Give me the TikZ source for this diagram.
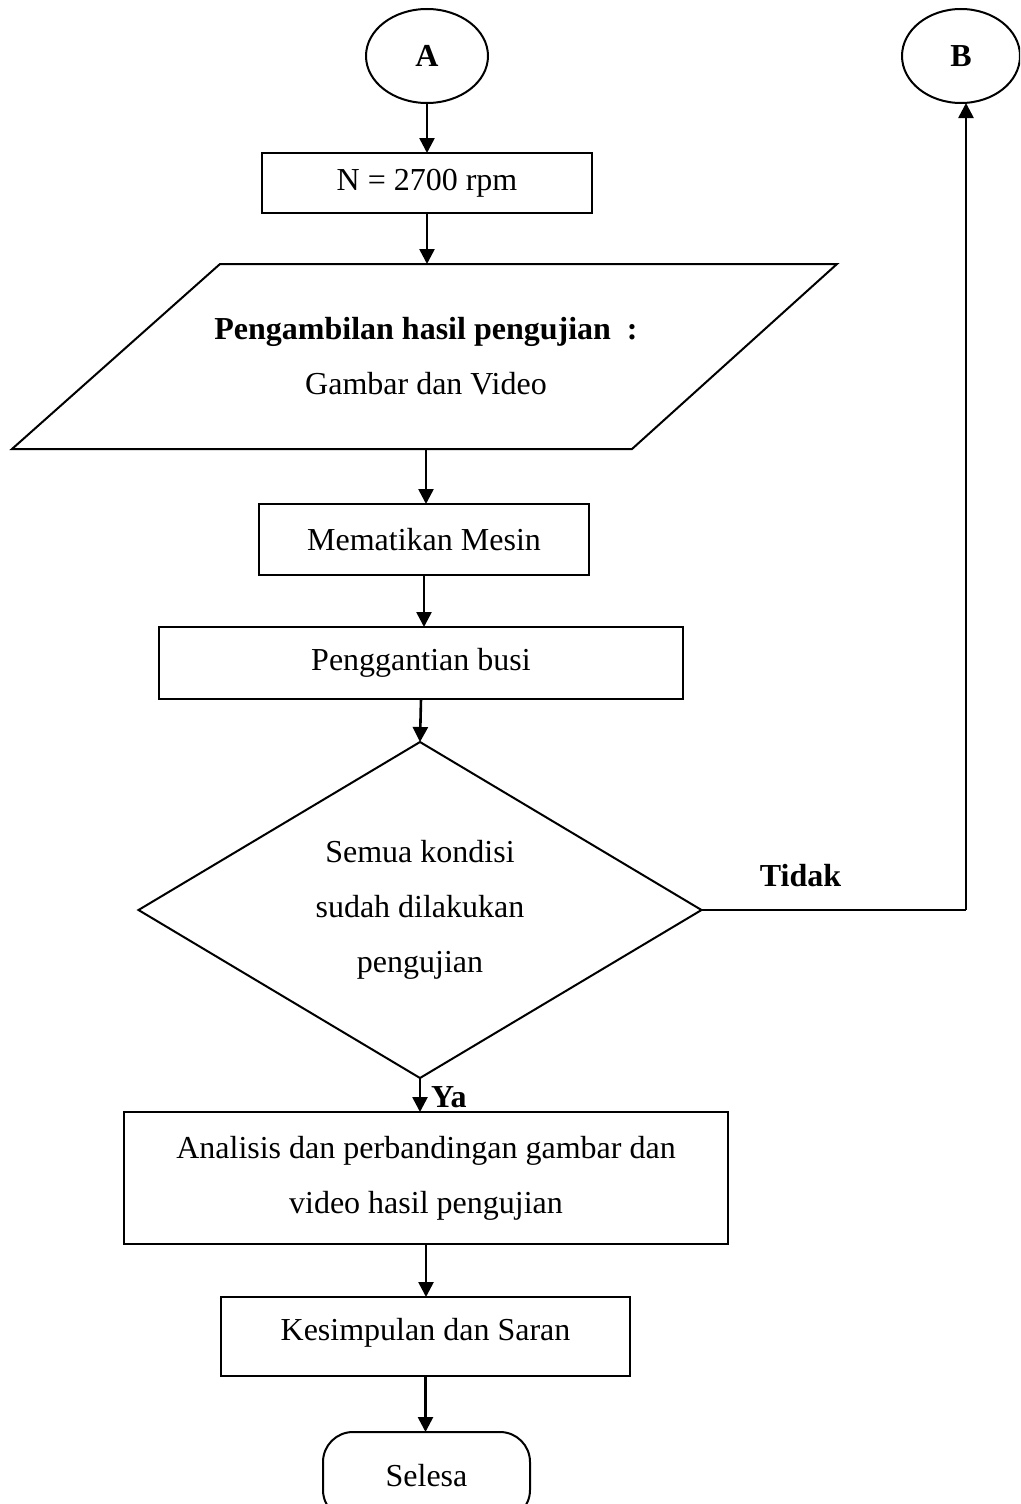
\documentclass[tikz,border=0pt]{standalone}
\usepackage{fontspec}
\setmainfont{Liberation Serif}
\usetikzlibrary{shapes.geometric,arrows.meta}

\begin{document}
\begin{tikzpicture}[x=1pt,y=-1pt,
  every node/.style={font=\fontsize{32}{55}\selectfont, inner sep=0pt, outer sep=0pt},
  line/.style={line width=2pt, line join=miter},
  flow/.style={line width=2.6pt, -{Triangle[length=15pt,width=15pt]}},
  procbox/.style={draw, line width=2pt, rectangle, align=center},
  connector/.style={draw, line width=2pt, ellipse, font=\fontsize{32}{55}\selectfont\bfseries},
  decision/.style={draw, line width=2pt, diamond, align=center},
  terminal/.style={draw, line width=2pt, rectangle, rounded corners=30pt},
  lbl/.style={font=\fontsize{32}{55}\selectfont\bfseries}
]
\clip (0,0) rectangle (1020,1504);

% off-page connectors
\node[connector, minimum width=122pt, minimum height=94pt] (A) at (427,56) {A};
\node[connector, minimum width=118pt, minimum height=94pt] (B) at (961,56) {B};

% process steps
\node[procbox, minimum width=330pt, minimum height=60pt] (rpm) at (427,183) {N = 2700 rpm};

% data (parallelogram) step
\coordinate (p1) at (220,264);
\coordinate (p2) at (837,264);
\coordinate (p3) at (632,449);
\coordinate (p4) at (12,449);
\draw[line] (p1) -- (p2) -- (p3) -- (p4) -- cycle;
\node[align=center, minimum width=400pt, minimum height=185pt] (data) at (426,356.5)
  {\textbf{Pengambilan hasil pengujian~ :}\\Gambar dan Video};

\node[procbox, minimum width=330pt, minimum height=71pt] (mati) at (424,539.5) {Mematikan Mesin};
\node[procbox, minimum width=524pt, minimum height=72pt] (busi) at (421,663) {Penggantian busi};

% decision
\node[decision, minimum width=563pt, minimum height=336pt, aspect=1.6756] (cek) at (420,910)
  {Semua kondisi\\sudah dilakukan\\pengujian};

\node[procbox, minimum width=604pt, minimum height=132pt] (analisis) at (426,1178)
  {Analisis dan perbandingan gambar dan\\video hasil pengujian};
\node[procbox, minimum width=409pt, minimum height=79pt, text depth=14pt] (simpul) at (425.5,1336.5)
  {Kesimpulan dan Saran};

% end
\node[terminal, minimum width=207pt, minimum height=88pt] (selesai) at (426.5,1476) {Selesa};

% connectors
\draw[flow] (A.south) -- (A.south |- rpm.north);
\draw[flow] (rpm.south) -- (rpm.south |- data.north);
\draw[flow] (data.south) -- (data.south |- mati.north);
\draw[flow] (mati.south) -- (mati.south |- busi.north);
\draw[flow] (busi.south) -- (cek.north);
\draw[flow] (cek.south) -- (cek.south |- analisis.north);
\draw[flow] (analisis.south) -- (analisis.south |- simpul.north);
\draw[flow] (simpul.south) -- (simpul.south |- selesai.north);

\coordinate (turn) at (966,910);
\draw[line] (cek.east) -- (turn);
\draw[flow] (turn) -- (turn |- B.south);

% branch labels
\node[lbl, anchor=base] (tidak) at (800.5,886) {Tidak};
\node[lbl, anchor=base west] (ya) at (431,1107) {Ya};
\end{tikzpicture}
\end{document}
